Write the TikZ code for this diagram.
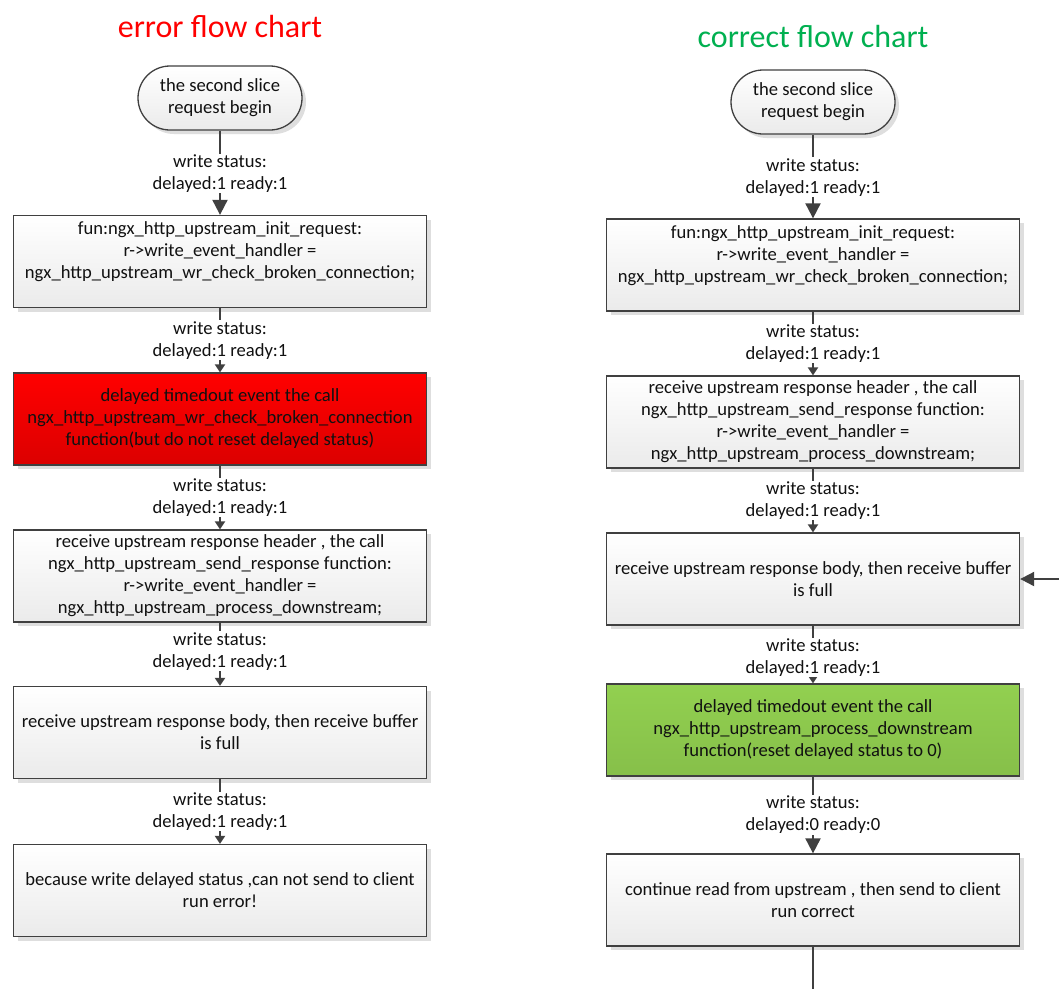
\documentclass[tikz,border=0pt]{standalone}
\usepackage{fontspec}
\setmainfont{Carlito}
\usetikzlibrary{arrows.meta,shadows}
\definecolor{ln}{HTML}{404040}
\definecolor{txt}{HTML}{111111}
\definecolor{errred}{HTML}{FF0000}
\definecolor{okgreen}{HTML}{00B050}
\definecolor{boxgreen}{HTML}{92D050}
\definecolor{redtop}{HTML}{FF0000}
\definecolor{redbot}{HTML}{DC0000}
\begin{document}
\begin{tikzpicture}[x=1pt,y=-1pt,
  every node/.style={font=\fontsize{18.6}{22}\selectfont, text=txt},
  proc/.style={draw=ln, line width=1.3pt, top color=white, bottom color=black!8,
    minimum width=413pt, minimum height=92pt, inner sep=0pt, align=center,
    drop shadow={shadow xshift=4pt,shadow yshift=-4pt,fill=black!13,opacity=1}},
  errbox/.style={proc, top color=redtop, bottom color=redbot},
  okbox/.style={proc, top color=boxgreen, bottom color=boxgreen!92!black},
  term/.style={proc, minimum width=164pt, minimum height=64pt, rounded corners=32pt},
  lbl/.style={fill=white, inner sep=1pt, align=center},
  flow/.style={draw=ln, line width=2pt, -{Triangle[width=10pt,length=8pt]}},
  bigflow/.style={draw=ln, line width=2pt, -{Triangle[width=15pt,length=15pt]}},
  plainflow/.style={draw=ln, line width=2pt},
  ttl/.style={font=\fontsize{32}{38}\selectfont}
]
\useasboundingbox[fill=white] (0,0) rectangle (1059,989);

% ---------------- left: error flow chart ----------------
\node[ttl, text=errred] (ltitle) at (220,27) {error flow chart};
\node[term] (l0) at (220,98) {the second slice\\request begin};
\node[proc] (l1) at (220,261.5) {fun:ngx\_http\_upstream\_init\_request:\\r->write\_event\_handler =\\ngx\_http\_upstream\_wr\_check\_broken\_connection;\\\mbox{}};
\node[errbox] (l2) at (220,419) {delayed timedout event the call\\ngx\_http\_upstream\_wr\_check\_broken\_connection\\function(but do not reset delayed status)};
\node[proc] (l3) at (220,576) {receive upstream response header , the call\\ngx\_http\_upstream\_send\_response function:\\r->write\_event\_handler =\\ngx\_http\_upstream\_process\_downstream;};
\node[proc] (l4) at (220,732.5) {receive upstream response body, then receive buffer\\is full};
\node[proc] (l5) at (220,890.5) {because write delayed status ,can not send to client\\run error!};

\draw[bigflow] (l0) -- node[lbl, pos=0.51] {write status:\\delayed:1 ready:1} (l1);
\draw[flow] (l1) -- node[lbl, pos=0.5] {write status:\\delayed:1 ready:1} (l2);
\draw[flow] (l2) -- node[lbl, pos=0.5] {write status:\\delayed:1 ready:1} (l3);
\draw[flow] (l3) -- node[lbl, pos=0.45] {write status:\\delayed:1 ready:1} (l4);
\draw[flow] (l4) -- node[lbl, pos=0.5] {write status:\\delayed:1 ready:1} (l5);

% ---------------- right: correct flow chart ----------------
\node[ttl, text=okgreen] (rtitle) at (813,37) {correct flow chart};
\node[term] (r0) at (813,102) {the second slice\\request begin};
\node[proc] (r1) at (813,265) {fun:ngx\_http\_upstream\_init\_request:\\r->write\_event\_handler =\\ngx\_http\_upstream\_wr\_check\_broken\_connection;\\\mbox{}};
\node[proc] (r2) at (813,422) {receive upstream response header , the call\\ngx\_http\_upstream\_send\_response function:\\r->write\_event\_handler =\\ngx\_http\_upstream\_process\_downstream;};
\node[proc] (r3) at (813,579) {receive upstream response body, then receive buffer\\is full};
\node[okbox] (r4) at (813,730) {delayed timedout event the call\\ngx\_http\_upstream\_process\_downstream\\function(reset delayed status to 0)};
\node[proc] (r5) at (813,900) {continue read from upstream , then send to client\\run correct};

\draw[bigflow] (r0) -- node[lbl, pos=0.51] {write status:\\delayed:1 ready:1} (r1);
\draw[flow] (r1) -- node[lbl, pos=0.5] {write status:\\delayed:1 ready:1} (r2);
\draw[flow] (r2) -- node[lbl, pos=0.5] {write status:\\delayed:1 ready:1} (r3);
\draw[flow] (r3) -- node[lbl, pos=0.55] {write status:\\delayed:1 ready:1} (r4);
\draw[bigflow] (r4) -- node[lbl, pos=0.5] {write status:\\delayed:0 ready:0} (r5);

\coordinate (rloopin) at (1059,579);
\coordinate (rloopout) at (813,989);
\draw[draw=ln, line width=2pt, -{Triangle[width=14pt,length=14pt]}] (rloopin) -- (r3.east);
\draw[plainflow] (r5) -- (rloopout);
\end{tikzpicture}
\end{document}
